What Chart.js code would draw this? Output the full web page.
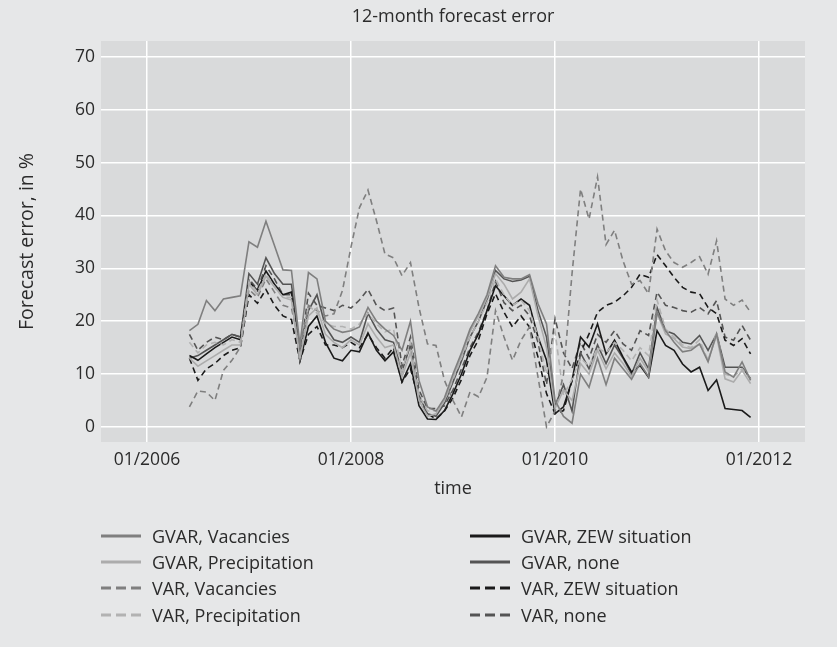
<!DOCTYPE html>
<html>
<head>
<meta charset="utf-8">
<script src="https://cdn.jsdelivr.net/npm/chart.js@4.4.1/dist/chart.umd.min.js"></script>
<style>
  html, body { margin: 0; padding: 0; background: #e6e7e8; }
  #wrap { position: relative; width: 837px; height: 647px; }
  #legend .item { position: absolute; height: 24px; display: flex; align-items: center;
    font-family: 'Open Sans', sans-serif; font-size: 18px; color: #2b2b2b; white-space: nowrap; }
  #legend svg { margin-right: 11px; }
</style>
</head>
<body>
<div id="wrap">
  <canvas id="myChart" width="837" height="647"></canvas>
  <div id="legend"></div>
</div>
<script>
// months Jun 2006 .. Dec 2011, x = months since 01/2006
const months = []
for (let y = 2006; y <= 2011; y++) {
  for (let m = 1; m <= 12; m++) {
    if (y === 2006 && m < 6) continue
    months.push((y - 2006) * 12 + (m - 1))
  }
}

const tickLabels = ['01/2006', '01/2008', '01/2010', '01/2012']
const yTicks = [0, 10, 20, 30, 40, 50, 60, 70]

const gvarVacancies = [18.2, 19.4, 23.9, 22.0, 24.2, 24.5, 24.8, 35.0, 34.0, 38.9, 34.3, 29.7, 29.6, 15.5, 29.2, 28.0, 20.0, 18.5, 17.9, 18.2,
  18.9, 22.6, 20.0, 18.5, 17.3, 14.5, 20.0, 8.8, 3.8, 3.0, 5.5, 10.0, 14.0, 18.5, 21.5, 25.0, 30.5, 28.3, 28.0, 28.0,
  28.8, 23.3, 19.5, 5.0, 2.0, 0.7, 10.0, 7.5, 13.0, 8.0, 13.0, 11.0, 9.0, 12.0, 9.5, 21.7, 18.2, 16.0, 14.2, 14.5,
  15.7, 12.3, 17.6, 10.4, 9.4, 12.3, 8.8]
const gvarPrecipitation = [13.0, 11.5, 12.5, 13.5, 14.5, 15.5, 15.5, 27.0, 25.0, 28.5, 26.5, 24.5, 24.0, 13.0, 21.0, 22.5, 17.5, 16.0, 15.0, 16.5,
  15.5, 19.5, 17.0, 15.0, 15.5, 9.5, 14.0, 5.0, 2.0, 2.5, 5.0, 9.5, 13.5, 18.0, 21.0, 24.5, 29.0, 27.0, 24.2, 25.5,
  28.0, 21.0, 15.0, 3.5, 7.0, 5.0, 12.0, 10.0, 14.5, 11.0, 14.0, 12.0, 9.5, 13.0, 10.5, 21.5, 17.6, 16.7, 15.1, 14.8,
  15.7, 12.6, 17.3, 9.1, 8.5, 10.7, 8.2]
const varVacancies = [3.8, 6.8, 6.6, 5.0, 10.7, 12.6, 15.1, 26.0, 24.5, 28.0, 25.5, 23.0, 22.5, 15.0, 23.0, 22.0, 21.0, 21.4, 25.8, 34.0,
  41.5, 44.8, 39.0, 32.7, 32.0, 28.6, 31.1, 22.6, 15.7, 15.4, 8.8, 5.0, 1.9, 6.6, 5.7, 9.4, 22.0, 17.0, 12.6, 16.4,
  18.9, 9.4, 0.0, 3.0, 10.0, 29.0, 45.0, 39.3, 47.3, 34.5, 37.2, 31.4, 27.0, 27.7, 25.2, 37.4, 33.3, 31.1, 30.2, 31.1,
  32.2, 28.9, 35.2, 24.2, 23.0, 24.0, 21.7]
const varPrecipitation = [16.0, 14.0, 15.5, 16.0, 15.5, 16.5, 16.0, 27.5, 25.5, 29.0, 26.5, 24.5, 24.5, 13.0, 23.0, 21.5, 19.5, 19.0, 19.0, 18.5,
  19.5, 21.5, 19.5, 18.0, 18.5, 10.5, 16.0, 6.0, 3.0, 3.0, 5.0, 9.0, 13.0, 17.0, 20.0, 23.5, 28.0, 25.0, 23.0, 24.0,
  22.0, 17.0, 10.0, 18.0, 6.0, 9.0, 13.0, 11.5, 15.0, 14.0, 16.0, 14.5, 12.5, 15.0, 13.5, 24.0, 18.5, 17.0, 15.5, 15.0,
  16.5, 12.5, 18.0, 10.0, 9.5, 11.0, 9.0]
const gvarZew = [13.5, 12.6, 13.8, 15.0, 16.0, 17.0, 16.5, 27.5, 25.8, 29.5, 27.0, 25.0, 25.5, 12.5, 19.0, 21.0, 16.0, 13.0, 12.5, 14.5,
  14.2, 17.8, 14.5, 12.5, 14.2, 8.5, 12.0, 4.0, 1.5, 1.4, 3.1, 6.3, 10.0, 14.5, 17.6, 22.0, 26.7, 24.8, 23.0, 24.2,
  23.0, 17.0, 12.6, 2.5, 3.8, 8.8, 17.0, 15.1, 19.5, 13.8, 16.4, 13.2, 10.4, 11.6, 9.4, 18.2, 15.4, 14.5, 11.9, 10.4,
  11.3, 6.9, 8.9, 3.5, 3.3, 3.1, 1.8]
const gvarNone = [13.0, 13.5, 14.5, 15.5, 16.5, 17.5, 17.0, 29.0, 27.0, 32.0, 29.0, 27.0, 27.0, 14.0, 22.0, 25.0, 19.0, 16.5, 16.0, 17.0,
  16.0, 21.5, 18.5, 16.5, 16.0, 10.5, 15.5, 6.0, 2.5, 2.0, 4.5, 8.5, 12.5, 17.0, 20.0, 24.0, 29.6, 28.0, 27.5, 27.8,
  28.5, 22.0, 17.0, 4.0, 8.0, 3.0, 14.0, 11.0, 15.5, 12.0, 15.5, 13.0, 10.0, 14.0, 11.0, 22.6, 18.2, 17.6, 16.0, 15.7,
  17.3, 14.5, 17.6, 11.3, 11.3, 11.3, 9.1]
const varZew = [13.0, 8.8, 11.0, 12.0, 13.5, 14.5, 15.0, 25.0, 23.4, 26.0, 23.0, 21.0, 20.3, 12.5, 17.5, 19.0, 15.5, 15.5, 15.0, 16.0,
  15.0, 17.5, 15.0, 13.0, 15.0, 8.5, 11.0, 5.0, 2.5, 1.5, 3.0, 5.5, 9.0, 13.5, 16.5, 21.4, 25.2, 21.7, 18.9, 21.0,
  18.9, 13.2, 6.3, 2.5, 3.1, 8.8, 14.0, 17.6, 21.7, 23.0, 23.6, 24.8, 26.4, 28.9, 28.3, 32.6, 30.5, 28.3, 26.4, 25.5,
  25.2, 22.6, 21.4, 16.4, 15.4, 16.7, 13.8]
const varNone = [17.5, 14.5, 16.0, 17.0, 16.5, 17.5, 17.0, 28.0, 26.0, 30.5, 28.0, 25.0, 25.0, 13.5, 25.3, 23.0, 22.5, 22.0, 23.0, 22.5,
  24.0, 26.0, 23.0, 22.0, 22.5, 11.5, 17.0, 7.0, 3.5, 3.5, 4.0, 7.0, 11.0, 15.0, 18.0, 22.0, 27.5, 23.5, 22.0, 23.0,
  21.0, 16.0, 8.0, 20.5, 14.0, 11.0, 16.0, 13.0, 17.5, 16.0, 18.2, 15.7, 14.5, 18.2, 17.3, 25.5, 23.0, 22.6, 22.0, 21.7,
  22.6, 21.4, 23.9, 17.0, 16.4, 19.2, 16.4]

const seriesNames = ['GVAR, Vacancies', 'GVAR, Precipitation', 'VAR, Vacancies', 'VAR, Precipitation',
  'GVAR, ZEW situation', 'GVAR, none', 'VAR, ZEW situation', 'VAR, none']
const seriesValues = [gvarVacancies, gvarPrecipitation, varVacancies, varPrecipitation, gvarZew, gvarNone, varZew, varNone]
const seriesColors = ['#7f7f7f', '#acacac', '#7f7f7f', '#b2b2b2', '#1a1a1a', '#545454', '#1a1a1a', '#545454']
const seriesDashed = [false, false, true, true, false, false, true, true]

const fontFamily = "'Open Sans', sans-serif"
const textColor = '#2b2b2b'

const datasets = seriesNames.map((name, k) => ({
  label: name,
  data: months.map((m, i) => ({ x: m, y: seriesValues[k][i] })),
  borderColor: seriesColors[k],
  borderWidth: 1.6,
  borderDash: seriesDashed[k] ? [6, 4] : [],
  pointRadius: 0,
  fill: false,
  tension: 0
}))

const plotBg = {
  id: 'plotBg',
  beforeDraw: chart => {
    const { ctx, chartArea: a } = chart
    ctx.save()
    ctx.fillStyle = '#d9dadb'
    ctx.fillRect(a.left, a.top, a.right - a.left, a.bottom - a.top)
    ctx.restore()
  }
}

const plotTitle = {
  id: 'plotTitle',
  afterDraw: chart => {
    const { ctx, chartArea: a } = chart
    ctx.save()
    ctx.fillStyle = textColor
    ctx.font = '18px ' + fontFamily
    ctx.textAlign = 'center'
    ctx.textBaseline = 'middle'
    ctx.fillText('12-month forecast error', (a.left + a.right) / 2, 17)
    ctx.restore()
  }
}

const config = {
  type: 'line',
  data: { datasets: datasets },
  plugins: [plotBg, plotTitle],
  options: {
    responsive: false,
    animation: false,
    devicePixelRatio: 1,
    layout: { padding: { left: 0, right: 32, top: 41, bottom: 137 } },
    plugins: { legend: { display: false }, tooltip: { enabled: false } },
    scales: {
      x: {
        type: 'linear',
        min: -5.4,
        max: 77.4,
        afterBuildTicks: scale => {
          scale.ticks = tickLabels.map(t => ({ value: (parseInt(t.slice(3)) - 2006) * 12 }))
        },
        afterFit: scale => { scale.height = 68 },
        ticks: {
          autoSkip: false,
          maxRotation: 0,
          padding: 8,
          color: textColor,
          font: { family: fontFamily, size: 17.5 },
          callback: v => tickLabels[v / 24]
        },
        grid: { color: '#ffffff', lineWidth: 1.5, drawTicks: false },
        border: { display: false },
        title: { display: true, text: 'time', color: textColor, font: { family: fontFamily, size: 18 }, padding: { top: 0, bottom: 10 } }
      },
      y: {
        min: -2.85,
        max: 73,
        afterBuildTicks: scale => {
          scale.ticks = yTicks.map(v => ({ value: v }))
        },
        afterFit: scale => { scale.width = 101 },
        ticks: {
          padding: 6,
          color: textColor,
          font: { family: fontFamily, size: 17.5 }
        },
        grid: { color: '#ffffff', lineWidth: 1.5, drawTicks: false },
        border: { display: false },
        title: { display: true, text: 'Forecast error, in %', color: textColor, font: { family: fontFamily, size: 19.5 }, padding: { top: 16, bottom: 0 } }
      }
    }
  }
}

const myChart = new Chart(document.getElementById('myChart'), config)

// legend in two columns, column-major like the original
const legend = document.getElementById('legend')
const colX = [101, 470]
const rowY = [536, 562, 588, 615]
seriesNames.forEach((name, k) => {
  const item = document.createElement('div')
  item.className = 'item'
  item.style.left = colX[Math.floor(k / 4)] + 'px'
  item.style.top = (rowY[k % 4] - 12) + 'px'
  const dash = seriesDashed[k] ? ' stroke-dasharray="10,5"' : ''
  item.innerHTML = `<svg width="40" height="6"><line x1="0" y1="3" x2="40" y2="3" stroke="${seriesColors[k]}" stroke-width="3"${dash}/></svg>${name}`
  legend.appendChild(item)
})
</script>
</body>
</html>
